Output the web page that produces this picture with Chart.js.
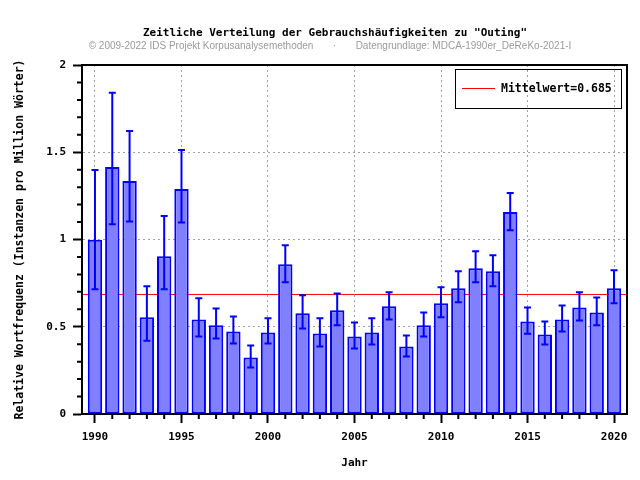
<!DOCTYPE html>
<html>
<head>
<meta charset="utf-8">
<title>Outing</title>
<script src="https://cdn.jsdelivr.net/npm/chart.js@4.4.1/dist/chart.umd.min.js"></script>
<style>
  body { margin: 0; background: #fff; }
  canvas { display: block; }
</style>
</head>
<body>
<canvas id="Chart" width="640" height="480"></canvas>
<script>
// values
const years = [1990, 1991, 1992, 1993, 1994, 1995, 1996, 1997, 1998, 1999,
  2000, 2001, 2002, 2003, 2004, 2005, 2006, 2007, 2008, 2009,
  2010, 2011, 2012, 2013, 2014, 2015, 2016, 2017, 2018, 2019, 2020];
const freq = [0.998, 1.416, 1.335, 0.554, 0.904, 1.289, 0.542, 0.508, 0.473, 0.324,
  0.467, 0.858, 0.577, 0.461, 0.594, 0.444, 0.467, 0.617, 0.387, 0.508,
  0.634, 0.720, 0.835, 0.818, 1.157, 0.530, 0.456, 0.542, 0.611, 0.582, 0.720];
const errHigh = [1.398, 1.841, 1.622, 0.732, 1.134, 1.513, 0.663, 0.605, 0.559, 0.393,
  0.548, 0.967, 0.680, 0.548, 0.691, 0.525, 0.548, 0.697, 0.450, 0.582,
  0.726, 0.818, 0.933, 0.910, 1.266, 0.611, 0.530, 0.622, 0.697, 0.668, 0.824];
const errLow = [0.715, 1.088, 1.103, 0.420, 0.715, 1.098, 0.444, 0.433, 0.404, 0.266,
  0.404, 0.755, 0.490, 0.387, 0.508, 0.375, 0.398, 0.542, 0.329, 0.444,
  0.554, 0.640, 0.755, 0.732, 1.053, 0.460, 0.398, 0.473, 0.536, 0.508, 0.634];
const mean = 0.685;
const xTickLabels = [1990, 1995, 2000, 2005, 2010, 2015, 2020];
const yTickLabels = [0, 0.5, 1, 1.5, 2];
const xMin = 1989.25, xMax = 2020.75;

const titleText = 'Zeitliche Verteilung der Gebrauchshäufigkeiten zu "Outing"';
const subText = '© 2009-2022 IDS Projekt Korpusanalysemethoden       ·       Datengrundlage: MDCA-1990er_DeReKo-2021-I';

const mono = 'DejaVu Sans Mono';
Chart.defaults.font.family = mono;
Chart.defaults.font.size = 11;
Chart.defaults.font.weight = 'bold';
Chart.defaults.color = '#000';

const extras = {
  id: 'extras',
  afterDatasetsDraw(chart) {
    const ctx = chart.ctx;
    const x = chart.scales.x, y = chart.scales.y;
    ctx.save();
    ctx.strokeStyle = '#0000ff';
    ctx.lineWidth = 2;
    for (let i = 0; i < years.length; i++) {
      const px = x.getPixelForValue(years[i]);
      const hi = y.getPixelForValue(errHigh[i]);
      const lo = y.getPixelForValue(errLow[i]);
      ctx.beginPath();
      ctx.moveTo(px, hi); ctx.lineTo(px, lo);
      ctx.moveTo(px - 3.5, hi); ctx.lineTo(px + 3.5, hi);
      ctx.moveTo(px - 3.5, lo); ctx.lineTo(px + 3.5, lo);
      ctx.stroke();
    }
    ctx.restore();
  },
  afterDraw(chart) {
    const ctx = chart.ctx;
    const a = chart.chartArea;
    const x = chart.scales.x, y = chart.scales.y;
    ctx.save();
    // frame
    ctx.strokeStyle = '#000';
    ctx.lineWidth = 2;
    ctx.strokeRect(a.left, a.top, a.right - a.left, a.bottom - a.top);
    // minor ticks
    ctx.beginPath();
    years.forEach(yr => {
      if (yr % 5 === 0) return;
      const px = x.getPixelForValue(yr);
      ctx.moveTo(px, a.bottom); ctx.lineTo(px, a.bottom + 5);
    });
    for (let k = 1; k < 20; k++) {
      if (k % 5 === 0) continue;
      const py = y.getPixelForValue(k / 10);
      ctx.moveTo(a.left, py); ctx.lineTo(a.left - 5, py);
    }
    ctx.stroke();

    // legend
    const lx = a.right - 172, ly = a.top + 4;
    ctx.lineWidth = 1;
    ctx.strokeRect(lx + 0.5, ly + 0.5, 166, 39);
    ctx.strokeStyle = '#ff0000';
    ctx.beginPath();
    ctx.moveTo(lx + 7, ly + 19.5); ctx.lineTo(lx + 40, ly + 19.5);
    ctx.stroke();
    ctx.fillStyle = '#000';
    ctx.font = 'bold 11.5px "' + mono + '"';
    ctx.textAlign = 'left';
    ctx.textBaseline = 'middle';
    ctx.fillText(chart.data.datasets[1].label, lx + 46, ly + 20);

    // title
    ctx.textAlign = 'center';
    ctx.font = 'bold 11px "' + mono + '"';
    ctx.fillText(titleText, 335, 33);
    ctx.font = '10px "Liberation Sans"';
    ctx.fillStyle = '#9a9a9a';
    ctx.fillText(subText, 330, 46);
    ctx.restore();
  }
};

const ctx = document.getElementById("Chart").getContext("2d");
const myChart = new Chart(ctx, {
  type: "bar",
  data: {
    datasets: [
      {
        type: "bar",
        label: "Jahr",
        data: years.map((yr, i) => ({ x: yr, y: freq[i] })),
        backgroundColor: "#8080ff",
        borderColor: "#0000ff",
        borderWidth: 2,
        borderSkipped: false,
        barPercentage: 1,
        categoryPercentage: 0.83,
        order: 1,
      },
      {
        type: "line",
        label: "Mittelwert=" + mean,
        data: [{ x: xMin, y: mean }, { x: xMax, y: mean }],
        borderColor: "#ff0000",
        borderWidth: 1,
        pointRadius: 0,
        order: 2,
      },
    ],
  },
  options: {
    responsive: false,
    animation: false,
    layout: { padding: { top: 65, right: 13, bottom: 0, left: 0 } },
    plugins: { legend: { display: false }, tooltip: { enabled: false } },
    scales: {
      x: {
        type: "linear",
        min: xMin,
        max: xMax,
        offset: false,
        afterFit: (s) => { s.height = 66; },
        afterBuildTicks: (s) => { s.ticks = xTickLabels.map(v => ({ value: v })); },
        ticks: { padding: 8, maxRotation: 0, autoSkip: false, callback: (v) => String(v) },
        grid: { offset: false, color: "#a0a0a0", lineWidth: 1, tickColor: "#000", tickWidth: 2, tickLength: 9 },
        border: { color: "#000", width: 2, dash: [2, 3] },
        title: { display: true, text: "Jahr", padding: { top: 0, bottom: 10 } },
      },
      y: {
        min: 0,
        max: 2,
        afterFit: (s) => { s.width = 82; },
        afterBuildTicks: (s) => { s.ticks = yTickLabels.map(v => ({ value: v })); },
        ticks: { padding: 7, callback: (v) => String(v) },
        grid: { color: "#a0a0a0", lineWidth: 1, tickColor: "#000", tickWidth: 2, tickLength: 9 },
        border: { color: "#000", width: 2, dash: [2, 3] },
        title: { display: true, text: "Relative Wortfrequenz (Instanzen pro Million Wörter)", font: { size: 11.5 }, padding: { top: 13, bottom: 0 } },
      },
    },
  },
  plugins: [extras],
});
</script>
</body>
</html>
